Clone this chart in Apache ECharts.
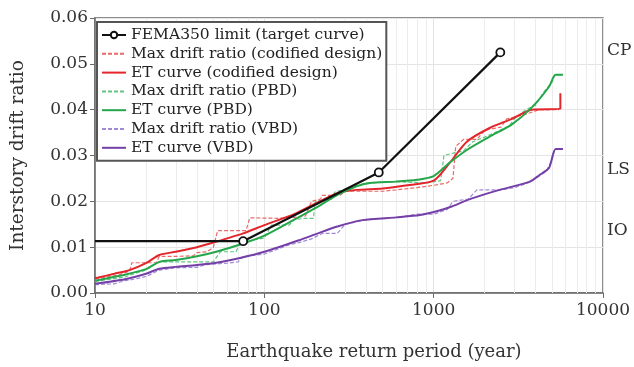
<!DOCTYPE html>
<html><head><meta charset="utf-8">
<script src="https://cdn.jsdelivr.net/npm/echarts@6/dist/echarts.min.js"></script>
<style>html,body{margin:0;padding:0;background:#fff}#c{width:634px;height:367px}</style>
</head><body><div id="c"></div>
<script>
// ---- data (return period in years, interstory drift ratio) ----
const seriesNames = [
  'FEMA350 limit (target curve)',
  'Max drift ratio (codified design)',
  'ET curve (codified design)',
  'Max drift ratio (PBD)',
  'ET curve (PBD)',
  'Max drift ratio (VBD)',
  'ET curve (VBD)'
];
const xTickLabels = ['10', '100', '1000', '10000'];
const yTickLabels = ['0.00', '0.01', '0.02', '0.03', '0.04', '0.05', '0.06'];
const performanceLevels = ['CP', 'LS', 'IO'];
const performanceLevelValues = [0.0525, 0.0265, 0.0133];

const femaLimit = [[10, 0.0113], [75, 0.0113], [474, 0.0263], [2475, 0.0525]];

const maxDriftCodified = [[10,0.0030],[14,0.0040],[16,0.0048],[16.5,0.0066],[23,0.0066],[24,0.0080],[30,0.0080],[38,0.0081],[40,0.0088],[46,0.0090],[50,0.0100],[53,0.0136],[78,0.0136],[82,0.0164],[120,0.0163],[150,0.0165],[175,0.0168],[190,0.0200],[215,0.0205],[220,0.0213],[280,0.0213],[300,0.0222],[500,0.0222],[600,0.0225],[800,0.0230],[1000,0.0235],[1200,0.0240],[1300,0.0250],[1350,0.0320],[1500,0.0335],[1800,0.0335],[2000,0.0355],[2500,0.0362],[2700,0.0380],[3500,0.0390],[4200,0.0400],[5500,0.0400]];
const etCodified = [[10,0.0032],[13,0.0042],[16,0.0050],[20,0.0065],[24,0.0083],[30,0.0090],[40,0.0100],[50,0.0110],[75,0.0130],[100,0.0148],[150,0.0172],[200,0.0195],[270,0.0218],[350,0.0225],[500,0.0228],[700,0.0235],[1000,0.0245],[1250,0.0285],[1570,0.0330],[2140,0.0360],[2900,0.0380],[3800,0.0400],[5600,0.0402],[5600,0.0436]];

const maxDriftPBD = [[10,0.0025],[15,0.0035],[18,0.0045],[20,0.0050],[24,0.0068],[36,0.0068],[50,0.0068],[55,0.0090],[68,0.0090],[72,0.0110],[100,0.0120],[110,0.0148],[140,0.0148],[150,0.0160],[175,0.0163],[195,0.0163],[200,0.0200],[250,0.0205],[260,0.0220],[400,0.0240],[600,0.0243],[900,0.0240],[1100,0.0245],[1150,0.0300],[1300,0.0305],[1500,0.0310],[1700,0.0330],[2000,0.0340],[2300,0.0350],[2800,0.0365],[3000,0.0380],[3500,0.0400],[4000,0.0410],[4500,0.0440],[5000,0.0460],[5200,0.0476],[5800,0.0476]];
const etPBD = [[10,0.0027],[15,0.0040],[20,0.0052],[24,0.0068],[30,0.0072],[40,0.0080],[52,0.0090],[75,0.0108],[100,0.0125],[150,0.0160],[200,0.0185],[270,0.0214],[350,0.0233],[420,0.0240],[600,0.0243],[800,0.0247],[1000,0.0255],[1240,0.0284],[1570,0.0312],[2140,0.0341],[2900,0.0368],[3800,0.0405],[4800,0.0450],[5250,0.0476],[5800,0.0476]];

const maxDriftVBD = [[10,0.0018],[13,0.0020],[15,0.0027],[17,0.0030],[20,0.0036],[24,0.0050],[30,0.0055],[40,0.0056],[45,0.0062],[60,0.0065],[70,0.0068],[75,0.0080],[100,0.0085],[140,0.0105],[160,0.0110],[190,0.0118],[220,0.0130],[270,0.0130],[300,0.0150],[400,0.0160],[600,0.0165],[800,0.0172],[1000,0.0172],[1200,0.0182],[1300,0.0200],[1600,0.0205],[1800,0.0225],[2500,0.0225],[3000,0.0230],[3600,0.0240],[4200,0.0255],[4600,0.0265],[5000,0.0290],[5200,0.0314],[5800,0.0314]];
const etVBD = [[10,0.0020],[15,0.0030],[20,0.0042],[24,0.0053],[30,0.0057],[40,0.0061],[52,0.0066],[75,0.0078],[100,0.0090],[160,0.0115],[200,0.0128],[270,0.0145],[380,0.0159],[600,0.0165],[830,0.0170],[1080,0.0180],[1240,0.0187],[1700,0.0207],[2450,0.0225],[3700,0.0243],[4200,0.0257],[4800,0.0273],[5250,0.0314],[5800,0.0314]];

// ---- style ----
const FONT = 'DejaVu Serif';
const RED = '#e3262b', RED_D = '#e86a6a';
const GREEN = '#25a64a', GREEN_D = '#62c483';
const PURPLE = '#7440a8', PURPLE_D = '#a08ad4';

// minor log grid lines (2..9 in each decade)
const minorGrid = [];
for (let d = 10; d < 10000; d *= 10) for (let k = 2; k <= 9; k++) minorGrid.push({ xAxis: k * d });

const chart = echarts.init(document.getElementById('c'), null, { renderer: 'canvas' });

function dashed(name, data, color) {
  return { name, type: 'line', data, symbol: 'none',
    lineStyle: { color, width: 1.2, type: [4, 2] }, itemStyle: { color }, z: 3 };
}
function solid(name, data, color) {
  return { name, type: 'line', data, symbol: 'none', smooth: 0.25,
    lineStyle: { color, width: 2 }, itemStyle: { color }, z: 4 };
}

chart.setOption({
  animation: false,
  textStyle: { fontFamily: FONT },
  grid: { left: 95, right: 31, top: 18, bottom: 74, show: true, borderColor: '#6a6a6a', borderWidth: 1.5 },
  legend: {
    orient: 'vertical', left: 97, top: 22,
    backgroundColor: '#fff', borderColor: '#555', borderWidth: 2,
    padding: [5, 4, 5, 4], itemGap: 2.8, itemWidth: 24, itemHeight: 8,
    textStyle: { fontFamily: FONT, fontSize: 15.5, color: '#222' },
    data: seriesNames.map((n, i) => i === 0 ? { name: n } : { name: n, itemStyle: { opacity: 0 } })
  },
  xAxis: {
    type: 'log', logBase: 10, min: 10, max: 10000,
    name: 'Earthquake return period (year)', nameLocation: 'middle', nameGap: 50,
    nameTextStyle: { fontFamily: FONT, fontSize: 18, color: '#333', padding: [0, 0, 0, 50] },
    axisLine: { lineStyle: { color: '#6a6a6a', width: 1.5 } },
    axisTick: { show: true, length: 5, lineStyle: { color: '#6a6a6a' } },
    axisLabel: { fontFamily: FONT, fontSize: 17, color: '#333', margin: 9,
      formatter: v => xTickLabels.find(t => Number(t) === Math.round(v)) || '' },
    splitLine: { show: true, lineStyle: { color: '#e4e4e4', width: 1 } }
  },
  yAxis: {
    type: 'value', min: 0, max: 0.06, interval: 0.01,
    name: 'Interstory drift ratio', nameLocation: 'middle', nameGap: 67,
    nameTextStyle: { fontFamily: FONT, fontSize: 18.5, color: '#333' },
    axisLine: { show: true, lineStyle: { color: '#6a6a6a', width: 1.5 } },
    axisTick: { show: true, length: 5, lineStyle: { color: '#6a6a6a' } },
    axisLabel: { fontFamily: FONT, fontSize: 17, color: '#333', margin: 7,
      formatter: (v, i) => yTickLabels[i] },
    splitLine: { show: true, lineStyle: { color: '#e4e4e4', width: 1 } }
  },
  series: [
    { name: seriesNames[0], type: 'line', data: femaLimit.map((p, i) => ({ value: p, symbol: i === 0 ? 'none' : 'circle' })),
      symbol: 'circle', symbolSize: 8, showAllSymbol: true,
      lineStyle: { color: '#111', width: 2.2 }, itemStyle: { color: '#fff', borderColor: '#111', borderWidth: 1.8 }, z: 5,
      markLine: { silent: true, symbol: 'none', label: { show: false },
        lineStyle: { color: '#ececec', width: 1, type: 'solid' }, data: minorGrid, z: 1 } },
    dashed(seriesNames[1], maxDriftCodified, RED_D),
    solid(seriesNames[2], etCodified, RED),
    dashed(seriesNames[3], maxDriftPBD, GREEN_D),
    solid(seriesNames[4], etPBD, GREEN),
    dashed(seriesNames[5], maxDriftVBD, PURPLE_D),
    solid(seriesNames[6], etVBD, PURPLE)
  ]
});

// performance-level labels on the right of the plot
const xRight = chart.convertToPixel({ xAxisIndex: 0 }, 10000);
chart.setOption({
  graphic: performanceLevels.map((t, i) => ({
    type: 'text', left: xRight + 4,
    top: chart.convertToPixel({ yAxisIndex: 0 }, performanceLevelValues[i]) - 10,
    style: { text: t, font: '17px "' + FONT + '"', fill: '#333' }
  }))
});
</script></body></html>
